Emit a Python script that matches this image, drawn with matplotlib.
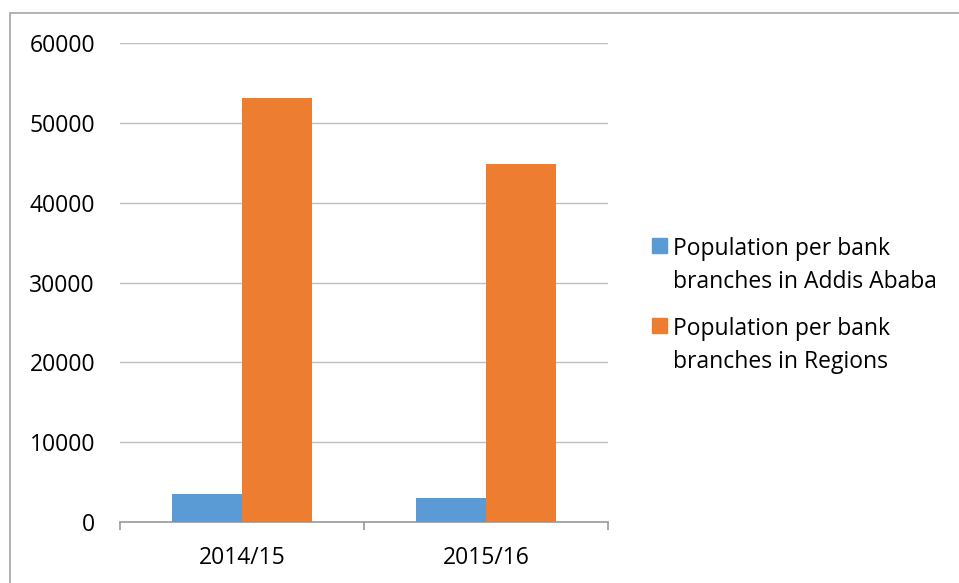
import numpy as np
import matplotlib.pyplot as plt
from matplotlib.patches import Rectangle

plt.rcParams['font.family'] = ['Open Sans', 'DejaVu Sans']

years = ['2014/15', '2015/16']
addis = [3500, 3000]
regions = [53100, 44850]
labels = ['Population per bank\nbranches in Addis Ababa',
          'Population per bank\nbranches in Regions']
colors = ['#5b9bd5', '#ed7d31']

W, H = 959, 583
fs = 16.5
fig = plt.figure(figsize=(W / 100, H / 100), dpi=100)

# outer frame around the chart area
fig.patches.append(Rectangle((10 / W, -0.1), 1.2, 1 - 13 / H + 0.1,
                             transform=fig.transFigure, fill=False,
                             edgecolor='#a6a6a6', linewidth=1.2))

ax = fig.add_axes([120 / W, 1 - 522 / H, 488 / W, 479 / H])

x = np.arange(len(years))
w = 0.287
ax.bar(x - w / 2, addis, w, color=colors[0], zorder=3)
ax.bar(x + w / 2, regions, w, color=colors[1], zorder=3)

ax.set_xlim(-0.5, 1.5)
ax.set_ylim(0, 60000)
ax.set_yticks(np.arange(0, 60001, 10000))
ax.yaxis.grid(True, color='#bfbfbf', linewidth=1, zorder=0)
ax.set_axisbelow(True)

for s in ['top', 'right', 'left']:
    ax.spines[s].set_visible(False)
ax.spines['bottom'].set_color('#9a9a9a')
ax.spines['bottom'].set_linewidth(1.2)

ax.set_xticks([-0.5, 0.5, 1.5])
ax.set_xticklabels([])
ax.set_xticks(x, minor=True)
ax.set_xticklabels(years, minor=True, fontsize=fs)
ax.tick_params(axis='x', which='major', length=6, color='#9a9a9a', width=1.2)
ax.tick_params(axis='x', which='minor', length=0, pad=17)
ax.tick_params(axis='y', length=0, labelsize=fs, pad=18)

# legend: square marker beside the first line of each two-line label
for i, (lab, c) in enumerate(zip(labels, colors)):
    top = 237 + i * 80
    fig.patches.append(Rectangle((652 / W, 1 - (top + 16) / H), 15 / W, 15 / H,
                                 transform=fig.transFigure, color=c))
    fig.text(673 / W, 1 - top / H, lab, fontsize=fs, va='top', ha='left',
             linespacing=1.5)

fig.savefig('out.png', dpi=100)
